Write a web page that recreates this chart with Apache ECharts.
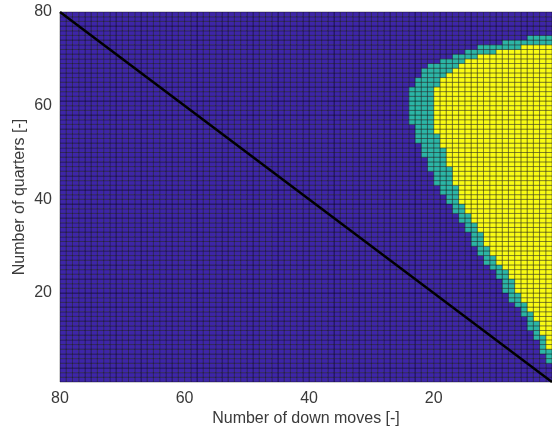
<!DOCTYPE html>
<html>
<head>
<meta charset="utf-8">
<script src="https://cdn.jsdelivr.net/npm/echarts@6/dist/echarts.min.js"></script>
<style>
  html, body { margin: 0; padding: 0; background: #fff; }
  #chart { width: 552px; height: 434px; }
</style>
</head>
<body>
<div id="chart"></div>
<script>
// tick labels
const xTicks = [20, 40, 60, 80]
const yTicks = [20, 40, 60, 80]

// grid size: cells span 1..80 on both axes (79 x 79)
const nCells = 79

// per row (row 1 = bottom), how many columns from the right (x = 1, 2, ...) are
// yellow, and how many are teal or yellow
const yellowCols = [
  0, 0, 0, 0, 0, 0, 0, 1, 1, 1,
  2, 2, 2, 3, 3, 4, 4, 5, 5, 6,
  6, 6, 7, 7, 8, 9, 9, 10, 10, 11,
  11, 11, 12, 12, 13, 13, 14, 14, 15, 15,
  15, 15, 16, 16, 16, 16, 17, 17, 17, 17,
  18, 18, 18, 19, 19, 19, 19, 19, 19, 19,
  19, 19, 19, 18, 18, 17, 16, 15, 14, 12,
  9, 5, 0, 0, 0, 0, 0, 0, 0
]
const tealCols = [
  0, 0, 0, 0, 1, 1, 2, 2, 2, 3,
  3, 4, 4, 4, 5, 5, 6, 7, 7, 8,
  8, 8, 9, 9, 10, 11, 11, 12, 12, 13,
  13, 13, 14, 14, 15, 15, 16, 16, 17, 17,
  18, 18, 19, 19, 19, 20, 20, 20, 21, 21,
  21, 22, 22, 22, 22, 23, 23, 23, 23, 23,
  23, 23, 23, 22, 22, 21, 21, 20, 18, 16,
  14, 12, 8, 4, 0, 0, 0, 0, 0
]

// diagonal line end points
const diagonal = [[80, 80], [1, 1]]

const palette = ['#3e26a8', '#2cb5a6', '#f9fb15']

// build cells [x, y, level]
const cells = []
for (let r = 1; r <= nCells; r++) {
  for (let c = 1; c <= nCells; c++) {
    let level = 0
    if (c <= yellowCols[r - 1]) level = 2
    else if (c <= tealCols[r - 1]) level = 1
    cells.push([c, r, level])
  }
}

const chart = echarts.init(document.getElementById('chart'), null, { renderer: 'canvas' })

const labelFont = {
  color: '#3a3a3a',
  fontSize: 16,
  fontFamily: 'Liberation Sans, Arial, sans-serif'
}

const option = {
  animation: false,
  backgroundColor: '#fff',
  grid: {
    left: 60,
    right: 0,
    top: 12,
    bottom: 52,
    containLabel: false
  },
  xAxis: {
    type: 'value',
    min: 1,
    max: 80,
    inverse: true,
    name: 'Number of down moves [-]',
    nameLocation: 'middle',
    nameGap: 29,
    nameMoveOverlap: false,
    nameTextStyle: { ...labelFont },
    axisLine: { show: false },
    axisTick: { show: false },
    splitLine: { show: false },
    axisLabel: {
      ...labelFont,
      margin: 9,
      customValues: xTicks
    }
  },
  yAxis: {
    type: 'value',
    min: 1,
    max: 80,
    name: 'Number of quarters [-]',
    nameLocation: 'middle',
    nameGap: 32,
    nameMoveOverlap: false,
    nameTextStyle: { ...labelFont },
    axisLine: { show: false },
    axisTick: { show: false },
    splitLine: { show: false },
    axisLabel: {
      ...labelFont,
      margin: 8,
      customValues: yTicks
    }
  },
  series: [
    {
      type: 'custom',
      data: cells,
      progressive: 0,
      renderItem: function (params, api) {
        const x = api.value(0)
        const y = api.value(1)
        const p0 = api.coord([x, y])
        const p1 = api.coord([x + 1, y + 1])
        return {
          type: 'rect',
          shape: {
            x: Math.min(p0[0], p1[0]),
            y: Math.min(p0[1], p1[1]),
            width: Math.abs(p1[0] - p0[0]),
            height: Math.abs(p1[1] - p0[1])
          },
          style: {
            fill: palette[api.value(2)],
            stroke: 'rgba(0, 0, 0, 0.55)',
            lineWidth: 0.7
          }
        }
      }
    },
    {
      type: 'line',
      data: diagonal,
      symbol: 'none',
      z: 5,
      lineStyle: {
        color: '#000',
        width: 2.5
      }
    }
  ]
}

chart.setOption(option)
</script>
</body>
</html>
